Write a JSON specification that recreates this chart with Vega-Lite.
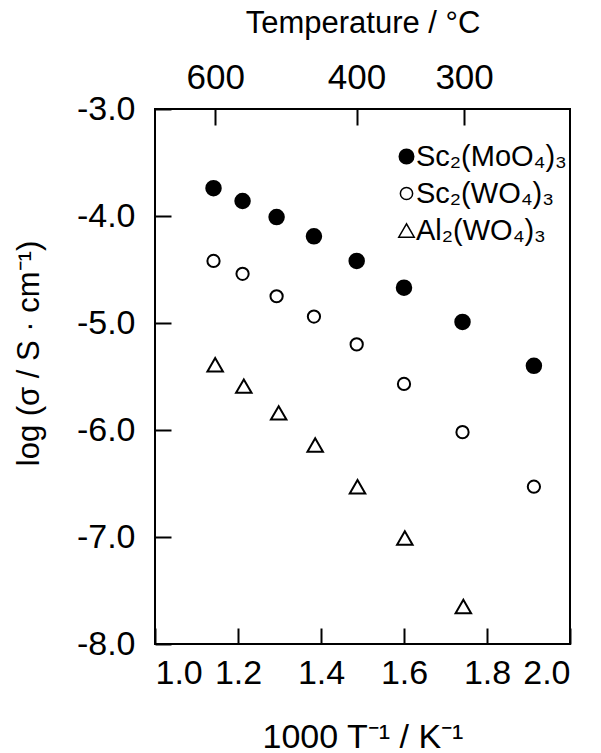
{
  "$schema": "https://vega.github.io/schema/vega-lite/v6.json",
  "width": 415,
  "height": 535,
  "autosize": {"type": "none"},
  "padding": {"left": 155, "top": 109, "right": 31, "bottom": 109},
  "background": "white",
  "config": {
    "font": "Liberation Sans",
    "view": {"stroke": "black", "strokeWidth": 2},
    "axis": {"grid": false, "domain": false, "tickColor": "black", "tickWidth": 2, "tickOpacity": 1, "zindex": 1, "labelColor": "black", "titleColor": "black", "labelFont": "Liberation Sans", "titleFont": "Liberation Sans", "titleFontWeight": "normal"}
  },
  "datasets": {
    "pts": [
      {"series": "Sc₂(MoO₄)₃", "x": 1.141, "y": -3.74},
      {"series": "Sc₂(MoO₄)₃", "x": 1.211, "y": -3.86},
      {"series": "Sc₂(MoO₄)₃", "x": 1.293, "y": -4.01},
      {"series": "Sc₂(MoO₄)₃", "x": 1.383, "y": -4.19},
      {"series": "Sc₂(MoO₄)₃", "x": 1.486, "y": -4.42},
      {"series": "Sc₂(MoO₄)₃", "x": 1.600, "y": -4.67},
      {"series": "Sc₂(MoO₄)₃", "x": 1.741, "y": -4.99},
      {"series": "Sc₂(MoO₄)₃", "x": 1.913, "y": -5.40},
      {"series": "Sc₂(WO₄)₃", "x": 1.141, "y": -4.42},
      {"series": "Sc₂(WO₄)₃", "x": 1.211, "y": -4.54},
      {"series": "Sc₂(WO₄)₃", "x": 1.293, "y": -4.75},
      {"series": "Sc₂(WO₄)₃", "x": 1.383, "y": -4.94},
      {"series": "Sc₂(WO₄)₃", "x": 1.486, "y": -5.20},
      {"series": "Sc₂(WO₄)₃", "x": 1.600, "y": -5.57},
      {"series": "Sc₂(WO₄)₃", "x": 1.741, "y": -6.02},
      {"series": "Sc₂(WO₄)₃", "x": 1.913, "y": -6.53},
      {"series": "Al₂(WO₄)₃", "x": 1.145, "y": -5.39},
      {"series": "Al₂(WO₄)₃", "x": 1.214, "y": -5.59},
      {"series": "Al₂(WO₄)₃", "x": 1.298, "y": -5.84},
      {"series": "Al₂(WO₄)₃", "x": 1.386, "y": -6.14},
      {"series": "Al₂(WO₄)₃", "x": 1.488, "y": -6.53},
      {"series": "Al₂(WO₄)₃", "x": 1.602, "y": -7.01},
      {"series": "Al₂(WO₄)₃", "x": 1.743, "y": -7.65}
    ],
    "temps": [
      {"tC": "600", "x": 1.1453},
      {"tC": "400", "x": 1.4856},
      {"tC": "300", "x": 1.7448}
    ]
  },
  "layer": [
    {
      "data": {"name": "pts"},
      "mark": {"type": "point", "filled": true, "stroke": "black", "strokeWidth": 2, "opacity": 1},
      "encoding": {
        "x": {
          "field": "x", "type": "quantitative",
          "scale": {"domain": [1, 2], "nice": false, "zero": false},
          "axis": {"orient": "bottom", "values": [1.0, 1.2, 1.4, 1.6, 1.8, 2.0], "format": ".1f", "ticks": true, "tickSize": -16, "labelPadding": 28, "labelFontSize": 34, "title": "1000 T⁻¹ / K⁻¹", "titleFontSize": 34, "titleBaseline": "alphabetic", "titleY": 103}
        },
        "y": {
          "field": "y", "type": "quantitative",
          "scale": {"domain": [-8, -3], "nice": false, "zero": false},
          "axis": {"orient": "left", "values": [-8, -7, -6, -5, -4, -3], "labelExpr": "(datum.value < 0 ? '-' : '') + format(abs(datum.value), '.1f')", "ticks": true, "tickSize": -16, "labelPadding": 36, "labelFontSize": 34, "title": "log (σ / S · cm⁻¹)", "titleFontSize": 31, "titleBaseline": "alphabetic", "titleX": -117, "titleY": 244}
        },
        "shape": {
          "field": "series", "type": "nominal",
          "scale": {"domain": ["Sc₂(MoO₄)₃", "Sc₂(WO₄)₃", "Al₂(WO₄)₃"], "range": ["circle", "circle", "triangle-up"]},
          "legend": {"title": null, "orient": "none", "legendX": 237, "legendY": 33, "labelFontSize": 29, "labelFont": "Liberation Sans", "labelColor": "black", "rowPadding": 7, "padding": 0, "labelOffset": -5,
            "encode": {"symbols": {"update": {"stroke": {"value": "black"}, "strokeWidth": {"value": 2}}}}}
        },
        "fill": {
          "field": "series", "type": "nominal",
          "scale": {"domain": ["Sc₂(MoO₄)₃", "Sc₂(WO₄)₃", "Al₂(WO₄)₃"], "range": ["black", "white", "white"]},
          "legend": {"title": null, "orient": "none", "legendX": 237, "legendY": 33, "labelFontSize": 29, "labelFont": "Liberation Sans", "labelColor": "black", "rowPadding": 7, "padding": 0, "labelOffset": -5,
            "encode": {"symbols": {"update": {"stroke": {"value": "black"}, "strokeWidth": {"value": 2}}}}}
        },
        "size": {
          "field": "series", "type": "nominal",
          "scale": {"type": "ordinal", "domain": ["Sc₂(MoO₄)₃", "Sc₂(WO₄)₃", "Al₂(WO₄)₃"], "range": [210, 150, 240]},
          "legend": {"title": null, "orient": "none", "legendX": 237, "legendY": 33, "labelFontSize": 29, "labelFont": "Liberation Sans", "labelColor": "black", "rowPadding": 7, "padding": 0, "labelOffset": -5,
            "encode": {"symbols": {"update": {"stroke": {"value": "black"}, "strokeWidth": {"value": 2}}}}}
        }
      }
    },
    {
      "data": {"name": "temps"},
      "mark": {"type": "point", "opacity": 0},
      "encoding": {
        "x": {
          "field": "x", "type": "quantitative",
          "axis": {"orient": "top", "values": [1.1453, 1.4856, 1.7448], "labelExpr": "datum.value < 1.3 ? '600' : datum.value < 1.6 ? '400' : '300'", "ticks": true, "tickSize": -16, "labelPadding": 30, "labelFontSize": 35, "title": "Temperature / °C", "titleFontSize": 31, "titleBaseline": "alphabetic", "titleY": -77}
        }
      }
    }
  ]
}
